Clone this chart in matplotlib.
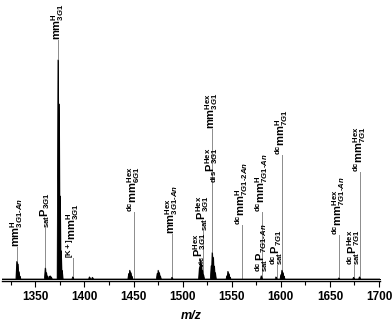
import numpy as np
import matplotlib
matplotlib.use("Agg")
import matplotlib.pyplot as plt
from matplotlib.ticker import MultipleLocator

plt.rcParams['font.family'] = ['Liberation Sans', 'DejaVu Sans']
plt.rcParams['font.weight'] = 'bold'
plt.rcParams['mathtext.fontset'] = 'custom'
plt.rcParams['mathtext.rm'] = 'Liberation Sans:bold'
plt.rcParams['mathtext.it'] = 'Liberation Sans:bold:italic'
plt.rcParams['mathtext.bf'] = 'Liberation Sans:bold'

# isotope sticks of the spectrum (m/z, relative intensity)
peak_mz = [1331, 1332, 1333, 1334,
           1360, 1361, 1362, 1364, 1365, 1366,
           1373, 1374, 1375, 1376, 1377,
           1388, 1405, 1408,
           1445, 1446, 1447, 1448,
           1474, 1475, 1476, 1477,
           1489,
           1517, 1518, 1519, 1520, 1521,
           1529, 1530, 1531, 1532, 1533,
           1545, 1546, 1547, 1548,
           1580, 1595, 1600, 1601, 1602, 1603,
           1659, 1674, 1680]
peak_int = [8, 7, 3.5, 1.5,
            5, 3, 1.5, 1.2, 1.5, 1,
            100, 80, 38, 13, 4,
            1, 1, 0.8,
            2.5, 4, 3, 1.5,
            2.5, 4, 3, 1.5,
            0.8,
            5, 9, 7, 4, 2,
            6, 12, 10, 6, 3,
            1.5, 3.5, 2.5, 1,
            1.5, 1, 2, 4, 3, 1.5,
            0.5, 0.8, 1]

# annotations: position, height of label foot, label text
label_mz = [1331.3, 1359.8, 1373, 1388.3, 1450.4, 1489, 1517.6, 1520.7,
            1529.8, 1529.8, 1560.4, 1580.5, 1580.5, 1596, 1601,
            1659, 1674.5, 1680.6]
label_y = [14.6, 23.3, 109, 9.6, 30.6, 20.5, 5, 21.9,
           68.5, 43.8, 24.7, 3.2, 30.6, 6.4, 56.6,
           20, 6.4, 48.8]
label_txt = [
    r'$\mathrm{mm}^{\mathrm{H}}_{\mathit{3G1\text{-}An}}$',
    r'${}_{\mathrm{sat}}\mathrm{P}_{\mathit{3G1}}$',
    r'$\mathrm{mm}^{\mathrm{H}}_{\mathit{3G1}}$',
    r'${}^{\mathrm{[K+]}}\mathrm{mm}^{\mathrm{H}}_{\mathit{3G1}}$',
    r'${}^{\mathrm{dc}}\mathrm{mm}^{\mathrm{Hex}}_{\mathit{6G1}}$',
    r'$\mathrm{mm}^{\mathrm{Hex}}_{\mathit{3G1\text{-}An}}$',
    r'${}_{\mathrm{vic}}\mathrm{P}^{\mathrm{Hex}}_{\mathit{3G1}}$',
    r'${}_{\mathrm{sat}}\mathrm{P}^{\mathrm{Hex}}_{\mathit{3G1}}$',
    r'$\mathrm{mm}^{\mathrm{Hex}}_{\mathit{3G1}}$',
    r'${}_{\mathrm{dis}}\mathrm{P}^{\mathrm{Hex}}_{\mathit{3G1}}$',
    r'${}^{\mathrm{dc}}\mathrm{mm}^{\mathrm{H}}_{\mathit{7G1\text{-}2An}}$',
    r'${}^{\mathrm{dc}}_{\mathrm{sat}}\mathrm{P}_{\mathit{7G1\text{-}An}}$',
    r'${}^{\mathrm{dc}}\mathrm{mm}^{\mathrm{H}}_{\mathit{7G1\text{-}An}}$',
    r'${}^{\mathrm{dc}}_{\mathrm{sat}}\mathrm{P}_{\mathit{7G1}}$',
    r'${}^{\mathrm{dc}}\mathrm{mm}^{\mathrm{H}}_{\mathit{7G1}}$',
    r'${}^{\mathrm{dc}}\mathrm{mm}^{\mathrm{Hex}}_{\mathit{7G1\text{-}An}}$',
    r'${}^{\mathrm{dc}}_{\mathrm{sat}}\mathrm{P}^{\mathrm{Hex}}_{\mathit{7G1}}$',
    r'${}^{\mathrm{dc}}\mathrm{mm}^{\mathrm{Hex}}_{\mathit{7G1}}$',
]

x_min, x_max = 1316, 1701

# build a simple profile from the sticks
prof_x = [x_min]
prof_y = [0]
for m, h in sorted(zip(peak_mz, peak_int)):
    prof_x += [m - 0.8, m, m + 0.8]
    prof_y += [0, h, 0]
prof_x.append(x_max)
prof_y.append(0)

fig = plt.figure(figsize=(3.92, 3.28), dpi=100)
ax = fig.add_axes([2 / 392, 47 / 328, 378 / 392, 281 / 328])

# label lines first so the spectrum sits on top
for m, y in zip(label_mz, label_y):
    ax.plot([m, m], [0, y], color='#8c8c8c', lw=0.7, zorder=1)

ax.fill_between(prof_x, prof_y, 0, color='black', lw=0.6, zorder=2)
ax.plot(prof_x, prof_y, color='black', lw=0.6, zorder=2)

for m, y, t in zip(label_mz, label_y, label_txt):
    ax.text(m, y, t, rotation=90, ha='center', va='bottom', fontsize=8, zorder=3)

ax.set_xlim(x_min, x_max)
ax.set_ylim(-0.9, 127.4)
ax.xaxis.set_major_locator(MultipleLocator(50))
ax.xaxis.set_minor_locator(MultipleLocator(25))
ax.tick_params(axis='x', which='major', length=4, width=0.8, labelsize=8.5, pad=3)
ax.tick_params(axis='x', which='minor', length=3, width=0.8)
for lab in ax.get_xticklabels():
    lab.set_fontweight('bold')
ax.set_yticks([])
for s in ['left', 'right', 'top']:
    ax.spines[s].set_visible(False)
ax.spines['bottom'].set_linewidth(1.0)
ax.set_xlabel('m/z', fontsize=9, fontweight='bold', fontstyle='italic', labelpad=5)
ax.patch.set_alpha(0)

fig.savefig('out.png', dpi=100)
